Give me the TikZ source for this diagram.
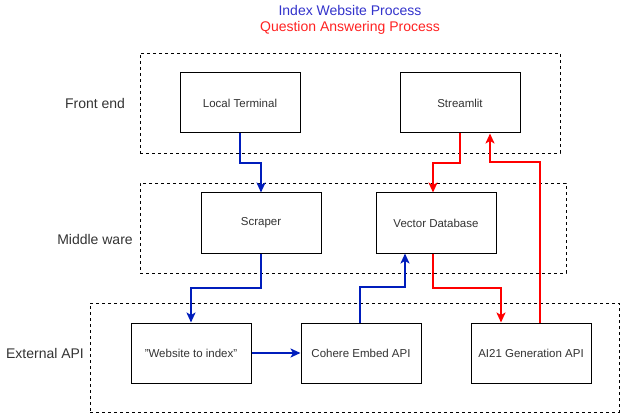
\documentclass[tikz,border=0pt]{standalone}
\usepackage{fontspec}
\setmainfont{Liberation Sans}
\usetikzlibrary{arrows.meta}
\definecolor{lineblue}{HTML}{001DBC}
\definecolor{linered}{HTML}{FF0000}
\definecolor{titleblue}{HTML}{3333CC}
\definecolor{titlered}{HTML}{FF2222}
\definecolor{txt}{HTML}{333333}
\begin{document}
\begin{tikzpicture}[x=1pt,y=-1pt,
  box/.style={draw=black, line width=1pt, fill=white, minimum width=120pt, minimum height=60pt, inner sep=0pt, text=txt, font=\fontsize{11.5}{13}\selectfont},
  group/.style={draw=black, line width=0.8pt, dash pattern=on 3pt off 3pt, inner sep=0pt},
  lbl/.style={text=txt, font=\fontsize{14}{16}\selectfont, inner sep=0pt},
  ttl/.style={font=\fontsize{14}{16}\selectfont, inner sep=0pt},
  tip/.style={-{Stealth[length=10pt,width=9pt,inset=2.5pt]}},
  bflow/.style={draw=lineblue, line width=2pt, tip},
  rflow/.style={draw=linered, line width=2pt, tip}]
\useasboundingbox[fill=white] (0,0) rectangle (621,414);
% groups
\node[group, minimum width=420pt, minimum height=100pt] (fe) at (350,103) {};
\node[group, minimum width=426pt, minimum height=90pt] (mw) at (353,228) {};
\node[group, minimum width=529pt, minimum height=109pt] (ex) at (354.5,357.5) {};
% group labels
\node[lbl] (lfe) at (95,103) {Front end};
\node[lbl] (lmw) at (95,239) {Middle ware};
\node[lbl] (lex) at (45,353) {External API};
% titles
\node[ttl, text=titleblue] (t1) at (350,10) {Index Website Process};
\node[ttl, text=titlered] (t2) at (350,28) {Question Answering Process};
% boxes
\node[box] (lt) at (240,103) {Local Terminal};
\node[box] (st) at (460,103) {Streamlit};
\node[box] (sc) at (261,223) {Scraper};
\node[box] (vd) at (436,223) {Vector Database};
\node[box] (wi) at (191,353) {\char34 Website to index\char34};
\node[box] (co) at (361,353) {Cohere Embed API};
\node[box] (ai) at (531,353) {AI21 Generation API};
% blue flow
\draw[bflow] (lt.south) -- ++(0,30) -| (sc.north);
\draw[bflow] (sc.south) -- ++(0,34) -| (wi.north);
\draw[bflow] (wi.east) -- (co.west);
\draw[bflow] ([xshift=-1pt]co.north) -- ++(0,-36) -| ([xshift=-31pt]vd.south);
% red flow
\draw[rflow] (st.south) -- ++(0,30) -| ([xshift=-3pt]vd.north);
\draw[rflow] ([xshift=-3pt]vd.south) -- ++(0,34) -| ([xshift=-30pt]ai.north);
\draw[rflow] ([xshift=9pt]ai.north) -- ++(0,-160) -| ([xshift=30pt]st.south);
\end{tikzpicture}
\end{document}
